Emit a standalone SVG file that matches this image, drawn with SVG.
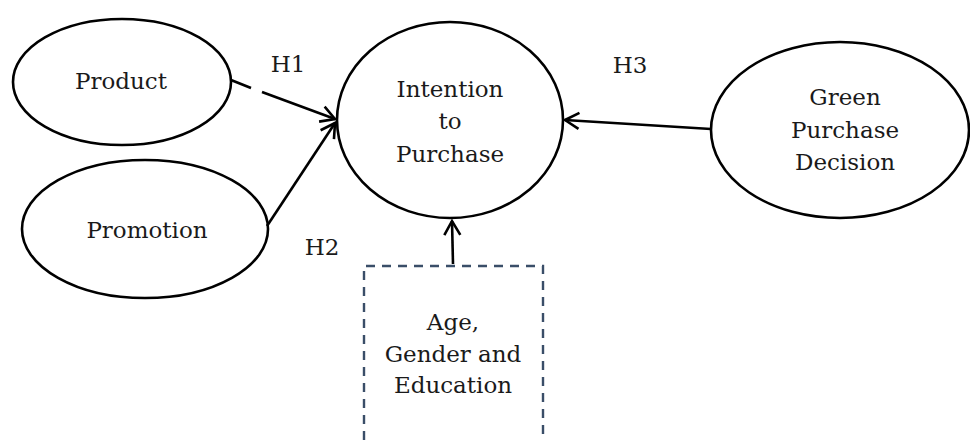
<svg xmlns="http://www.w3.org/2000/svg" width="970" height="440" viewBox="0 0 970 440">
<defs>
<style>
.node ellipse{fill:#fff;stroke:#000;stroke-width:2.6}
text{font-family:"DejaVu Serif","Liberation Serif",serif;font-size:23px;fill:#1a1a1a;text-anchor:middle}
.conn path{fill:none;stroke:#000;stroke-width:2.6}
.box{fill:none;stroke:#3a4e68;stroke-width:2.4;stroke-dasharray:9,7}
</style>
<marker id="arr" markerUnits="userSpaceOnUse" markerWidth="20" markerHeight="20" viewBox="0 0 20 20" refX="17" refY="10" orient="auto">
<path d="M3,2 L17,10 L3,18" fill="none" stroke="#000" stroke-width="2.6"/>
</marker>
</defs>
<rect width="970" height="440" fill="#fff"/>
<g id="product" class="node">
<ellipse cx="122" cy="82" rx="109" ry="63"/>
<text x="121" y="89">Product</text>
</g>
<g id="promotion" class="node">
<ellipse cx="145" cy="229" rx="123" ry="69"/>
<text x="147" y="238">Promotion</text>
</g>
<g id="intention" class="node">
<ellipse cx="450" cy="120" rx="113" ry="98"/>
<text x="450" y="97">Intention</text>
<text x="450" y="129">to</text>
<text x="450" y="162">Purchase</text>
</g>
<g id="green" class="node">
<ellipse cx="840" cy="130" rx="129" ry="88"/>
<text x="845" y="105">Green</text>
<text x="845" y="138">Purchase</text>
<text x="845" y="170">Decision</text>
</g>
<g id="demographics">
<path class="box" d="M364,440 L364,266 L543,266 L543,440"/>
<text x="453" y="330">Age,</text>
<text x="453" y="362">Gender and</text>
<text x="453" y="393">Education</text>
</g>
<g id="connectors" class="conn">
<path d="M231,80 L251,88"/>
<path d="M262,92 L335,119" marker-end="url(#arr)"/>
<path d="M267,226 L335,123" marker-end="url(#arr)"/>
<path d="M711,129 L565,120" marker-end="url(#arr)"/>
<path d="M453,264 L452,221" marker-end="url(#arr)"/>
</g>
<g id="labels">
<text x="288" y="72">H1</text>
<text x="322" y="255">H2</text>
<text x="630" y="73">H3</text>
</g>
</svg>
